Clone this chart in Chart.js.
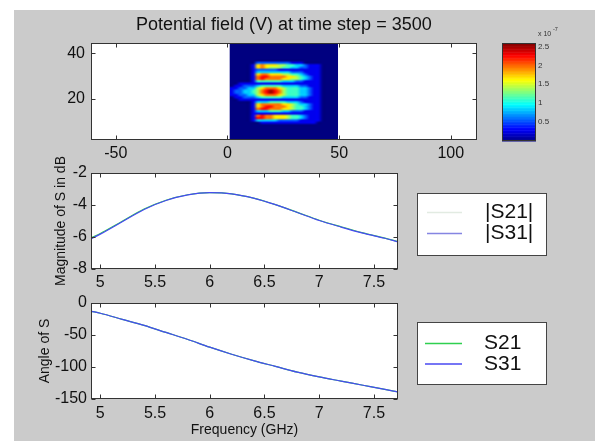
<!DOCTYPE html>
<html>
<head>
<meta charset="utf-8">
<script src="https://cdn.jsdelivr.net/npm/chart.js@4.4.1/dist/chart.umd.min.js"></script>
<style>
  html, body { margin: 0; padding: 0; background: #fff; }
  #fig { position: absolute; left: 14px; top: 10px; width: 581px; height: 431px; background: #cbcbcb; }
  canvas { position: absolute; }
</style>
</head>
<body>
<div id="fig"></div>
<canvas id="field" width="595" height="170" style="left:0;top:0"></canvas>
<canvas id="cbar" width="105" height="130" style="left:490px;top:20px"></canvas>
<canvas id="mag" width="595" height="140" style="left:0;top:150px"></canvas>
<canvas id="angle" width="595" height="161" style="left:0;top:280px"></canvas>
<script>
// S-parameters vs frequency
const freq = [4.92, 5.0, 5.2, 5.4, 5.6, 5.8, 6.0, 6.2, 6.4, 6.6, 6.8, 7.0, 7.2, 7.4, 7.6, 7.72];
const magS21 = [-6.05, -5.78, -5.01, -4.25, -3.70, -3.36, -3.23, -3.30, -3.57, -3.98, -4.46, -4.95, -5.36, -5.74, -6.07, -6.29];
const magS31 = [-6.10, -5.82, -5.05, -4.28, -3.72, -3.37, -3.23, -3.30, -3.57, -3.98, -4.47, -4.97, -5.38, -5.76, -6.08, -6.30];
const angleS21 = [-13, -16, -25.5, -35, -46, -57, -69, -80, -90, -99, -108, -115.5, -122, -128.5, -135, -139];
const angleS31 = [-13, -16, -25.5, -35, -46, -57, -69, -80, -90, -99, -108, -115.5, -122, -128.5, -135, -139];

const freqTicks = [5, 5.5, 6, 6.5, 7, 7.5];
const magTicks = [-8, -6, -4, -2];
const angleTicks = [-150, -100, -50, 0];
const fieldXTicks = [-50, 0, 50, 100];
const fieldYTicks = [20, 40];
const cbTicks = [0.5, 1, 1.5, 2, 2.5];

// potential field snapshot, top row first; each digit = 0.28e-7 V
const fieldX = [1, 49.5];
const fieldY = [2, 44.4];
const fieldStep = 0.28;
const fieldRows = [
  '0000000000000000000000000',
  '0000000000000000000000000',
  '0000000000000000000000000',
  '0000000000000000000000000',
  '0000000000000000000000000',
  '0000000000000000000000000',
  '0000000000000000000000000',
  '0000000000000000000000000',
  '0000002222222211100000000',
  '0000016766655443321110000',
  '0000016765554433221110000',
  '0000012222211111111110000',
  '0000013333333322211110000',
  '0000016776665544321110000',
  '0000017887777665432110000',
  '0000017877776655432110000',
  '0000014444443332211110000',
  '0011111111111111111110000',
  '0112223444443333221110000',
  '1122335677765444332110000',
  '1223345789875444332110000',
  '1223345789875444332110000',
  '1122335677765444332110000',
  '0112223444443333221110000',
  '0011111111111111111110000',
  '0000013334444333211110000',
  '0000016777776654332110000',
  '0000016788777654432110000',
  '0000017887776654432110000',
  '0000013334443322211110000',
  '0000011111111111111110000',
  '0000017877666544321110000',
  '0000018877666544321110000',
  '0000013333322222111110000',
  '0000000111111111111100000',
  '0000000000000000000000000',
  '0000000000000000000000000',
  '0000000000000000000000000',
  '0000000000000000000000000',
  '0000000000000000000000000',
  '0000000000000000000000000',
  '0000000000000000000000000'
];
const cbRange = [0, 2.59];

const family = "'Liberation Sans', Arial, Helvetica, sans-serif";
const ink = '#111';
const s21Color = '#2fd04f';
const s31Color = '#4848f2';

function jet(t) {
  const c = v => Math.round(255 * Math.max(0, Math.min(1, v)));
  return [c(Math.min(4 * t - 1.5, -4 * t + 4.5)), c(Math.min(4 * t - 0.5, -4 * t + 3.5)), c(Math.min(4 * t + 0.5, -4 * t + 2.5))];
}
const toT = v => (v - cbRange[0]) / (cbRange[1] - cbRange[0]);

const fixedTicks = list => scale => { scale.ticks = list.map(value => ({ value })); };

function axis(min, max, ticks, pad, extra) {
  return Object.assign({
    type: 'linear', min, max,
    afterBuildTicks: fixedTicks(ticks),
    grid: { display: false, drawTicks: false },
    border: { display: false },
    ticks: { font: { family, size: 16 }, color: ink, padding: pad, maxRotation: 0, autoSkip: false, callback: v => String(v) }
  }, extra);
}

// white axes background, box and inward tick marks like matlab
const axesBox = (withTicks) => ({
  id: 'axesBox',
  beforeDraw(chart) {
    const { ctx, chartArea: a } = chart;
    ctx.save();
    ctx.fillStyle = '#fff';
    ctx.fillRect(a.left, a.top, a.width, a.height);
    ctx.restore();
  },
  afterDatasetsDraw(chart) {
    const { ctx, chartArea: a, scales } = chart;
    ctx.save();
    ctx.strokeStyle = '#333';
    ctx.lineWidth = 1;
    const l = Math.round(a.left) + 0.5, r = Math.round(a.right) - 0.5;
    const t = Math.round(a.top) + 0.5, b = Math.round(a.bottom) - 0.5;
    ctx.strokeRect(l, t, r - l, b - t);
    if (withTicks) {
      ctx.beginPath();
      scales.x.ticks.forEach(tk => {
        const p = Math.round(scales.x.getPixelForValue(tk.value)) + 0.5;
        ctx.moveTo(p, b); ctx.lineTo(p, b - 4);
        ctx.moveTo(p, t); ctx.lineTo(p, t + 4);
      });
      scales.y.ticks.forEach(tk => {
        const p = Math.round(scales.y.getPixelForValue(tk.value)) + 0.5;
        ctx.moveTo(l, p); ctx.lineTo(l + 4, p);
        ctx.moveTo(r, p); ctx.lineTo(r - 4, p);
      });
      ctx.stroke();
    }
    ctx.restore();
  }
});

const boxLegend = (cfg) => ({
  id: 'boxLegend',
  afterDraw(chart) {
    const { ctx } = chart;
    const [bx, by, bw, bh] = cfg.box;
    ctx.save();
    ctx.fillStyle = '#fff';
    ctx.fillRect(bx, by, bw, bh);
    ctx.strokeStyle = '#444';
    ctx.lineWidth = 1;
    ctx.strokeRect(bx + 0.5, by + 0.5, bw, bh);
    ctx.font = cfg.fontSize + 'px ' + family;
    ctx.textBaseline = 'middle';
    ctx.fillStyle = ink;
    chart.data.datasets.forEach((ds, i) => {
      const y = cfg.rows[i];
      ctx.strokeStyle = ds.legendColor || ds.borderColor;
      ctx.lineWidth = 1.5;
      ctx.beginPath();
      ctx.moveTo(cfg.sample[0], y + 0.5);
      ctx.lineTo(cfg.sample[1], y + 0.5);
      ctx.stroke();
      ctx.fillText(ds.label, cfg.textX, y + 0.5);
    });
    ctx.restore();
  }
});

// field image, one pixel per cell, scaled onto the axes
const fieldImg = document.createElement('canvas');
fieldImg.width = fieldRows[0].length;
fieldImg.height = fieldRows.length;
(() => {
  const c = fieldImg.getContext('2d');
  const img = c.createImageData(fieldImg.width, fieldImg.height);
  fieldRows.forEach((row, j) => {
    [...row].forEach((ch, i) => {
      const [r, g, b] = jet(toT(Number(ch) * fieldStep));
      const k = (j * fieldImg.width + i) * 4;
      img.data[k] = r; img.data[k + 1] = g; img.data[k + 2] = b; img.data[k + 3] = 255;
    });
  });
  c.putImageData(img, 0, 0);
})();

const fieldPlugin = {
  id: 'fieldPlugin',
  beforeDatasetsDraw(chart) {
    const { ctx, chartArea: a, scales: { x, y } } = chart;
    const x0 = x.getPixelForValue(fieldX[0]), x1 = x.getPixelForValue(fieldX[1]);
    const y0 = y.getPixelForValue(fieldY[1]), y1 = y.getPixelForValue(fieldY[0]);
    ctx.save();
    ctx.beginPath();
    ctx.rect(a.left, a.top, a.width, a.height);
    ctx.clip();
    const [r, g, b] = jet(0);
    ctx.fillStyle = `rgb(${r},${g},${b})`;
    ctx.fillRect(x0, y0, x1 - x0, y1 - y0);
    ctx.imageSmoothingEnabled = true;
    ctx.imageSmoothingQuality = 'high';
    ctx.drawImage(fieldImg, x0, y0, x1 - x0, y1 - y0);
    ctx.restore();
  }
};

new Chart(document.getElementById('field'), {
  type: 'scatter',
  data: { datasets: [] },
  options: {
    responsive: false,
    animation: false,
    layout: { padding: { left: 0, right: 118.3, top: 0, bottom: 0 } },
    scales: {
      x: axis(-61.1, 111.6, fieldXTicks, 4.4, { afterFit: s => { s.height = 30; } }),
      y: axis(fieldY[0], fieldY[1], fieldYTicks, 6, { afterFit: s => { s.width = 91; } })
    },
    plugins: {
      legend: { display: false },
      tooltip: { enabled: false },
      title: {
        display: true, fullSize: false,
        text: 'Potential field (V) at time step = 3500',
        font: { family, size: 18, weight: 'normal' }, color: ink,
        padding: { top: 14, bottom: 7.7 }
      }
    }
  },
  plugins: [axesBox(true), fieldPlugin]
});

// colorbar
const colorbarPlugin = {
  id: 'colorbar',
  beforeDatasetsDraw(chart) {
    const { ctx, chartArea: a, scales: { y } } = chart;
    const n = 64;
    for (let i = 0; i < n; i++) {
      const v0 = cbRange[0] + (cbRange[1] - cbRange[0]) * i / n;
      const v1 = cbRange[0] + (cbRange[1] - cbRange[0]) * (i + 1) / n;
      const [r, g, b] = jet((i + 0.5) / n);
      ctx.fillStyle = `rgb(${r},${g},${b})`;
      const p0 = y.getPixelForValue(v0), p1 = y.getPixelForValue(v1);
      ctx.fillRect(a.left, p1, a.width, p0 - p1 + 0.5);
    }
  },
  afterDraw(chart) {
    const { ctx, chartArea: a } = chart;
    ctx.save();
    ctx.fillStyle = '#333';
    ctx.textBaseline = 'alphabetic';
    ctx.font = '7px ' + family;
    ctx.fillText('x 10', a.right + 2, a.top - 7);
    ctx.font = '5.5px ' + family;
    ctx.fillText('-7', a.right + 17, a.top - 12);
    ctx.restore();
  }
};

new Chart(document.getElementById('cbar'), {
  type: 'scatter',
  data: { datasets: [] },
  options: {
    responsive: false,
    animation: false,
    layout: { padding: { left: 12, right: 0, top: 23, bottom: 9 } },
    scales: {
      x: { type: 'linear', display: false, min: 0, max: 1 },
      y: {
        type: 'linear', position: 'right', min: cbRange[0], max: cbRange[1],
        afterBuildTicks: fixedTicks(cbTicks),
        afterFit: s => { s.width = 59; },
        grid: { display: false, drawTicks: false },
        border: { display: false },
        ticks: { font: { family, size: 8 }, color: '#333', padding: 2, autoSkip: false, callback: v => String(v) }
      }
    },
    plugins: { legend: { display: false }, tooltip: { enabled: false } }
  },
  plugins: [axesBox(false), colorbarPlugin]
});

// S31 (blue) is drawn on top of S21 (green), as in the original
const series = (label, ys, color, order, legendColor) => ({
  label,
  data: freq.map((f, i) => ({ x: f, y: ys[i] })),
  borderColor: color,
  legendColor,
  order,
  borderWidth: 1.2,
  pointRadius: 0,
  cubicInterpolationMode: 'monotone'
});

new Chart(document.getElementById('mag'), {
  type: 'line',
  data: {
    datasets: [
      series('|S21|', magS21, s21Color, 2, '#e2ebe2'),
      series('|S31|', magS31, s31Color, 1, '#8585e2')
    ]
  },
  options: {
    responsive: false,
    animation: false,
    layout: { padding: { left: 0, right: 197, top: 23, bottom: 0 } },
    scales: {
      x: axis(4.915, 7.72, freqTicks, 4, { afterFit: s => { s.height = 21; } }),
      y: axis(-8, -2, magTicks, 4, {
        afterFit: s => { s.width = 91; },
        title: { display: true, text: 'Magnitude of S in dB', font: { family, size: 14 }, color: ink, padding: { top: 53, bottom: 0 } }
      })
    },
    plugins: { legend: { display: false }, tooltip: { enabled: false } }
  },
  plugins: [axesBox(true), boxLegend({ box: [417, 43, 129, 62], sample: [427, 462], rows: [62, 83], textX: 485, fontSize: 21 })]
});

new Chart(document.getElementById('angle'), {
  type: 'line',
  data: {
    datasets: [
      series('S21', angleS21, s21Color, 2),
      series('S31', angleS31, s31Color, 1)
    ]
  },
  options: {
    responsive: false,
    animation: false,
    layout: { padding: { left: 0, right: 197, top: 23, bottom: 0 } },
    scales: {
      x: axis(4.915, 7.72, freqTicks, 5.4, {
        afterFit: s => { s.height = 42; },
        title: { display: true, text: 'Frequency (GHz)', font: { family, size: 14 }, color: ink, padding: { top: 0, bottom: 2 } }
      }),
      y: axis(-150, 0, angleTicks, 4, {
        afterFit: s => { s.width = 91; },
        title: { display: true, text: 'Angle of S', font: { family, size: 14 }, color: ink, padding: { top: 36.6, bottom: 0 } }
      })
    },
    plugins: { legend: { display: false }, tooltip: { enabled: false } }
  },
  plugins: [axesBox(true), boxLegend({ box: [417, 42, 129, 62], sample: [425, 462], rows: [63, 83.5], textX: 484, fontSize: 21 })]
});
</script>
</body>
</html>
